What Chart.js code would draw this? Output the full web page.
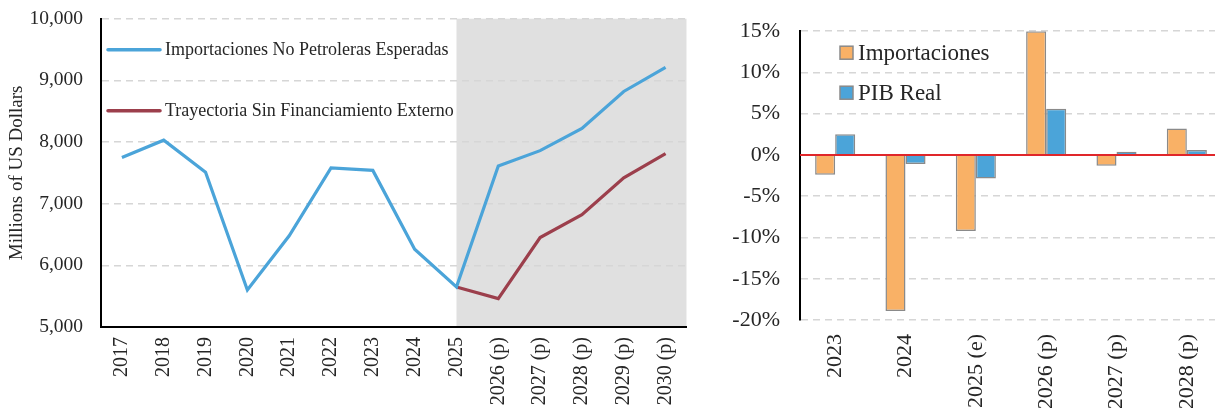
<!DOCTYPE html>
<html>
<head>
<meta charset="utf-8">
<script src="https://cdn.jsdelivr.net/npm/chart.js@4.4.0/dist/chart.umd.min.js"></script>
<style>
  html, body { margin: 0; padding: 0; background: #fff; }
  body { width: 1215px; height: 408px; overflow: hidden; position: relative; }
  #wrap-left  { position: absolute; left: 0;     top: -11px; width: 700px; height: 440px; }
  #wrap-right { position: absolute; left: 712px; top: -2px;  width: 523px; height: 440px; }
</style>
</head>
<body>
<div id="wrap-left"><canvas id="chart-left"></canvas></div>
<div id="wrap-right"><canvas id="chart-right"></canvas></div>
<script>
// ── Datos ────────────────────────────────────────────────────────────────────
const years = ['2017', '2018', '2019', '2020', '2021', '2022', '2023', '2024', '2025',
               '2026 (p)', '2027 (p)', '2028 (p)', '2029 (p)', '2030 (p)'];
const importsExpected = [7750, 8030, 7510, 5600, 6480, 7580, 7540, 6260, 5650,
                         7610, 7860, 8220, 8820, 9210];
const noFinancing = [null, null, null, null, null, null, null, null, 5650,
                     5460, 6450, 6820, 7420, 7810];
const shadeFrom = '2025';

const growthYears = ['2023', '2024', '2025 (e)', '2026 (p)', '2027 (p)', '2028 (p)'];
const importsGrowth = [-2.4, -18.9, -9.2, 15.0, -1.3, 3.2];
const gdpGrowth = [2.5, -1.1, -2.85, 5.6, 0.4, 0.6];

const FONT = '"Liberation Serif", "DejaVu Serif", serif';
const TXT = '#262626';
const BLUE = '#4ba4d9';
const RED = '#9c3f4c';
const ORANGE = '#f9b166';
const GRID = '#d6d6d6';

// ── Gráfica izquierda: importaciones no petroleras ───────────────────────────
const shadePlugin = {
    id: 'shade',
    beforeDraw(chart) {
        const { ctx, chartArea, scales } = chart;
        const x0 = scales.x.getPixelForValue(years.indexOf(shadeFrom));
        ctx.save();
        ctx.fillStyle = '#e0e0e0';
        ctx.fillRect(x0, chartArea.top, chartArea.right - x0, chartArea.bottom - chartArea.top);
        ctx.restore();
    }
};

// leyenda dentro del área de la gráfica
const lineLegend = {
    id: 'lineLegend',
    afterDraw(chart) {
        const ctx = chart.ctx;
        const top = chart.chartArea.top;
        const items = [
            { text: 'Importaciones No Petroleras Esperadas', color: BLUE, dy: 31 },
            { text: 'Trayectoria Sin Financiamiento Externo', color: RED, dy: 92 },
        ];
        ctx.save();
        ctx.font = `18px ${FONT}`;
        ctx.textBaseline = 'middle';
        items.forEach(it => {
            const y = top + it.dy;
            ctx.strokeStyle = it.color;
            ctx.lineWidth = 3.5;
            ctx.lineCap = 'round';
            ctx.beginPath();
            ctx.moveTo(108, y);
            ctx.lineTo(160, y);
            ctx.stroke();
            ctx.fillStyle = TXT;
            ctx.fillText(it.text, 165, y + 1);
        });
        ctx.restore();
    }
};

new Chart(document.getElementById('chart-left'), {
    type: 'line',
    data: {
        labels: years,
        datasets: [
            {
                label: 'Importaciones No Petroleras Esperadas',
                data: importsExpected,
                borderColor: BLUE,
                borderWidth: 3.2,
                pointRadius: 0,
                tension: 0,
            },
            {
                label: 'Trayectoria Sin Financiamiento Externo',
                data: noFinancing,
                borderColor: RED,
                borderWidth: 3.2,
                pointRadius: 0,
                tension: 0,
            }
        ]
    },
    options: {
        responsive: true,
        maintainAspectRatio: false,
        animation: false,
        layout: { padding: { top: 7, right: 12, left: 0, bottom: 0 } },
        plugins: { legend: { display: false }, tooltip: { enabled: false } },
        scales: {
            x: {
                offset: true,
                grid: { display: false, drawTicks: false },
                border: { display: true, color: '#000', width: 2 },
                ticks: {
                    font: { family: FONT, size: 20 },
                    color: TXT,
                    minRotation: 90,
                    maxRotation: 90,
                    autoSkip: false,
                    padding: 10,
                },
                afterFit: s => { s.height = 102; }
            },
            y: {
                min: 5000,
                max: 10000,
                grid: {
                    color: ctx => ctx.tick.value === 5000 ? 'rgba(0,0,0,0)' : GRID,
                    lineWidth: 1.5,
                    drawTicks: false,
                },
                border: { display: true, color: '#000', width: 2, dash: [7, 5] },
                ticks: {
                    stepSize: 1000,
                    font: { family: FONT, size: 19.5 },
                    color: TXT,
                    padding: 18,
                    callback: v => v.toLocaleString('en-US')
                },
                title: {
                    display: true,
                    text: 'Millions of US Dollars',
                    font: { family: FONT, size: 19 },
                    color: TXT,
                    padding: { top: 6, bottom: 0 }
                },
                afterFit: s => { s.width = 101; }
            }
        }
    },
    plugins: [shadePlugin, lineLegend]
});

// ── Gráfica derecha: crecimiento ─────────────────────────────────────────────
const zeroLine = {
    id: 'zeroLine',
    afterDatasetsDraw(chart) {
        const { ctx, chartArea, scales } = chart;
        const y0 = scales.y.getPixelForValue(0);
        ctx.save();
        ctx.strokeStyle = '#e0262a';
        ctx.lineWidth = 2;
        ctx.beginPath();
        ctx.moveTo(chartArea.left, y0);
        ctx.lineTo(chartArea.right, y0);
        ctx.stroke();
        ctx.restore();
    }
};

const boxLegend = {
    id: 'boxLegend',
    afterDraw(chart) {
        const ctx = chart.ctx;
        const { left, top } = chart.chartArea;
        const items = [
            { text: 'Importaciones', color: ORANGE, dy: 21.5 },
            { text: 'PIB Real', color: BLUE, dy: 61.5 },
        ];
        ctx.save();
        ctx.font = `23px ${FONT}`;
        ctx.textBaseline = 'middle';
        items.forEach(it => {
            const y = top + it.dy;
            ctx.fillStyle = it.color;
            ctx.fillRect(left + 40, y - 6.5, 13, 13);
            ctx.strokeStyle = '#8a8a8a';
            ctx.lineWidth = 1.5;
            ctx.strokeRect(left + 40, y - 6.5, 13, 13);
            ctx.fillStyle = TXT;
            ctx.fillText(it.text, left + 58, y + 1);
        });
        ctx.restore();
    }
};

new Chart(document.getElementById('chart-right'), {
    type: 'bar',
    data: {
        labels: growthYears,
        datasets: [
            {
                label: 'Importaciones',
                data: importsGrowth,
                backgroundColor: ORANGE,
                borderColor: '#8a8a8a',
                borderWidth: 1.5,
            },
            {
                label: 'PIB Real',
                data: gdpGrowth,
                backgroundColor: BLUE,
                borderColor: '#8a8a8a',
                borderWidth: 1.5,
            }
        ]
    },
    options: {
        responsive: true,
        maintainAspectRatio: false,
        animation: false,
        layout: { padding: { top: 19, right: 13, left: 0, bottom: 0 } },
        plugins: { legend: { display: false }, tooltip: { enabled: false } },
        datasets: { bar: { categoryPercentage: 0.57, barPercentage: 1 } },
        scales: {
            x: {
                grid: { display: false, drawTicks: false },
                border: { display: false },
                ticks: {
                    font: { family: FONT, size: 22 },
                    color: TXT,
                    minRotation: 90,
                    maxRotation: 90,
                    autoSkip: false,
                    padding: 14,
                },
                afterFit: s => { s.height = 118; }
            },
            y: {
                min: -20,
                max: 15,
                grid: { color: GRID, lineWidth: 1.5, drawTicks: false },
                border: { display: true, color: '#000', width: 2, dash: [7, 5] },
                ticks: {
                    stepSize: 5,
                    font: { family: FONT, size: 22 },
                    color: TXT,
                    padding: 20,
                    callback: v => v + '%'
                },
                afterFit: s => { s.width = 88; }
            }
        }
    },
    plugins: [zeroLine, boxLegend]
});
</script>
</body>
</html>
